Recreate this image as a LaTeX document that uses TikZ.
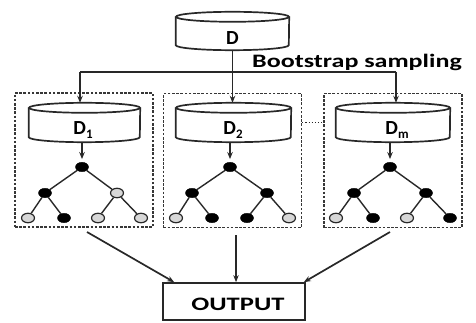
\documentclass[tikz,border=0pt]{standalone}
\usepackage{fontspec}
\setmainfont{Carlito}
\usetikzlibrary{arrows.meta,calc,shapes.geometric}
\definecolor{linegray}{RGB}{40,40,40}
\definecolor{dashgray}{RGB}{55,55,55}
\definecolor{lightnode}{RGB}{215,215,215}
\newcommand\sub[1]{\raisebox{-4pt}{\fontsize{13}{13}\selectfont #1}}
% flat drum drawn around a rectangular node: #1 node name, #2 half width
\newcommand\drum[2]{%
  \draw[line] ($(#1.north west)+(0,5)$) -- ($(#1.south west)+(0,-5)$)
    arc[start angle=180, end angle=0, x radius=#2, y radius=5]
    -- ($(#1.north east)+(0,5)$);
  \draw[line] ($(#1.north)+(0,5)$) ellipse[x radius=#2, y radius=5];
}

\begin{document}
\begin{tikzpicture}[x=1pt,y=-1pt,
  line/.style={draw=linegray, line width=1.7pt},
  arr/.style={line, -{Stealth[length=7pt,width=5.5pt]}},
  disk/.style={rectangle, minimum width=113pt, minimum height=39pt, inner sep=0pt},
  bag/.style={draw=dashgray, dash pattern=on 2.6pt off 1.6pt, line width=1.7pt,
    minimum width=138pt, minimum height=134pt, inner sep=0pt},
  nb/.style={ellipse, fill=black, draw=black, minimum width=13pt, minimum height=9.5pt, inner sep=0pt},
  ng/.style={ellipse, fill=lightnode, draw=linegray, line width=1.2pt, minimum width=13pt, minimum height=9.5pt, inner sep=0pt},
  edge/.style={draw=linegray, line width=1.4pt},
  lbl/.style={font=\bfseries\fontsize{20}{20}\selectfont, inner sep=0pt, anchor=base},
]
\useasboundingbox (0,0) rectangle (476,323);

% source data set
\node[disk, minimum height=38pt] (D) at (232.5,31) {};
\drum{D}{56.5}
\node[lbl] (Dt) at (232.5,45) {D};
\node[font=\bfseries\fontsize{19}{19}\selectfont, inner sep=0pt, anchor=base west] (bs) at (252,68)
  {\scalebox{1.37}[1]{Bootstrap sampling}};

% dashed bags
\node[bag] (B1) at (84,160) {};
\node[bag] (B2) at (232.5,160.5) {};
\node[bag] (B3) at (393,160.5) {};

% bootstrap samples
\node[disk, minimum width=111pt] (D1) at (84.5,122.5) {};
\node[disk, minimum width=115pt] (D2) at (233.5,122.5) {};
\node[disk, minimum width=114pt] (Dm) at (393,122.5) {};
\drum{D1}{55.5}
\drum{D2}{57.5}
\drum{Dm}{57}
\node[lbl] (D1t) at (83,135) {D\sub{1}};
\node[lbl] (D2t) at (233,135) {D\sub{2}};
\node[lbl] (Dmt) at (397,135) {D\sub{m}};

% distribution of the samples
\coordinate (s1) at (80,72);
\coordinate (s3) at (396,72);
\draw[line] (s1) -- (s3);
\draw[arr] (D.south) -- (D.south |- D2.north);
\draw[arr] (s1) -- (s1 |- D1.north);
\draw[arr] (s3) -- (s3 |- Dm.north);
\draw[draw=linegray, dotted, line width=1.1pt] (B2.east |- D2.center) -- (B3.west |- D2.center);

% tree 1
\node[nb] (r1) at (82,167) {};
\node[nb] (a1) at (45,193) {};
\node[ng] (b1) at (117,193) {};
\node[ng] (a1l) at (28,218) {};
\node[nb] (a1r) at (64,218) {};
\node[ng] (b1l) at (98,218) {};
\node[ng] (b1r) at (141,218) {};
% tree 2
\node[nb] (r2) at (230,167) {};
\node[nb] (a2) at (192,193) {};
\node[nb] (b2) at (267,193) {};
\node[ng] (a2l) at (176,218) {};
\node[nb] (a2r) at (212,218) {};
\node[nb] (b2l) at (247,218) {};
\node[ng] (b2r) at (289,218) {};
% tree m
\node[nb] (r3) at (390,167) {};
\node[nb] (a3) at (354,193) {};
\node[nb] (b3) at (426,193) {};
\node[ng] (a3l) at (336,218) {};
\node[nb] (a3r) at (373,218) {};
\node[ng] (b3l) at (407,218) {};
\node[nb] (b3r) at (450,218) {};

\foreach \t in {1,2,3}{
  \draw[edge] (r\t) -- (a\t);
  \draw[edge] (r\t) -- (b\t);
  \draw[edge] (a\t) -- (a\t l);
  \draw[edge] (a\t) -- (a\t r);
  \draw[edge] (b\t) -- (b\t l);
  \draw[edge] (b\t) -- (b\t r);
}
\draw[arr, shorten >=3pt] (D1.south -| r1) -- (r1);
\draw[arr, shorten >=3pt] (D2.south -| r2) -- (r2);
\draw[arr, shorten >=3pt] (Dm.south -| r3) -- (r3);

% aggregation
\node[draw=linegray, line width=1.7pt, minimum width=142pt, minimum height=37pt, inner sep=0pt] (out) at (234,301.5) {};
\node[font=\bfseries\fontsize{19}{19}\selectfont, inner sep=0pt, anchor=base] (outt) at (238,310)
  {\scalebox{1.4}[1]{OUTPUT}};
\coordinate (o1) at (87,232);
\coordinate (o2) at (236,235);
\coordinate (o3) at (390,232);
\draw[arr] (o1) -- ($(out.north west)+(12,0)$);
\draw[arr] (o2) -- (o2 |- out.north);
\draw[arr] (o3) -- ($(out.north east)+(-2,0)$);
\end{tikzpicture}
\end{document}
